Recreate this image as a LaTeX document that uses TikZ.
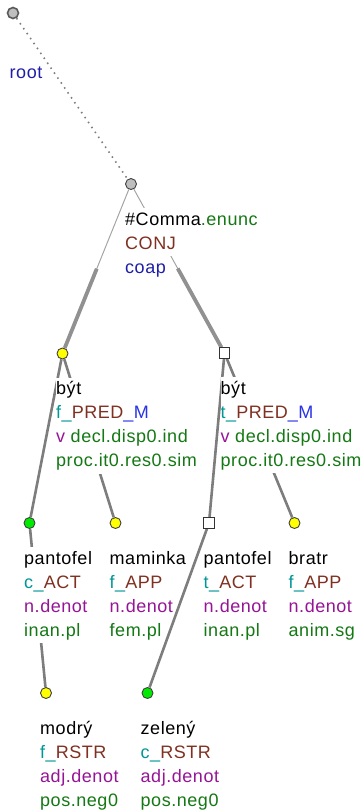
\documentclass[tikz,border=0pt]{standalone}
\usepackage{fontspec}
\setmainfont{Liberation Sans}[LetterSpace=3]
\usetikzlibrary{calc,backgrounds}
\definecolor{cteal}{RGB}{0,150,150}
\definecolor{cbrown}{RGB}{128,48,32}
\definecolor{cblue}{RGB}{40,50,230}
\definecolor{cnavy}{RGB}{30,30,170}
\definecolor{cpurple}{RGB}{150,20,150}
\definecolor{cgreen}{RGB}{20,120,20}
\definecolor{edgegrey}{RGB}{125,125,125}
\definecolor{thickgrey}{RGB}{145,145,145}
\definecolor{thingrey}{RGB}{165,165,165}
\definecolor{nodegrey}{RGB}{190,190,190}
\definecolor{nodeyellow}{RGB}{255,255,0}
\definecolor{nodegreen}{RGB}{0,235,0}
\tikzset{
  lbl/.style={anchor=base west, fill=white, inner xsep=0pt, inner ysep=0pt,
    text height=17pt, text depth=7pt, font=\fontsize{18}{24}\selectfont},
  dotnode/.style={circle, draw=black!75, line width=0.9pt, minimum size=11pt, inner sep=0pt},
  gnode/.style={dotnode, fill=nodegrey},
  ynode/.style={dotnode, fill=nodeyellow},
  grnode/.style={dotnode, fill=nodegreen},
  snode/.style={rectangle, draw=black!80, line width=0.9pt, fill=white, minimum size=10.5pt, inner sep=0pt},
  rootedge/.style={draw=edgegrey, line width=1.6pt, dash pattern=on 1.5pt off 4.5pt},
  normedge/.style={draw=edgegrey, line width=2.6pt},
  thinedge/.style={draw=thingrey, line width=1pt},
  thickedge/.style={draw=thickgrey, line width=3.8pt},
}
\begin{document}
\begin{tikzpicture}[x=1pt,y=-1pt]
\useasboundingbox (0,0) rectangle (362,812);
% tree nodes
\node[gnode, line width=1.6pt, draw=black!65] (root) at (13,13) {};
\node[gnode] (comma) at (131,184) {};
\node[ynode] (byt1) at (62.5,353.5) {};
\node[snode] (byt2) at (224.5,353) {};
\node[grnode] (pant1) at (29.5,523) {};
\node[ynode] (mam) at (115.5,523) {};
\node[snode] (pant2) at (209,523) {};
\node[ynode] (bratr) at (294.5,523) {};
\node[ynode] (modry) at (46,693) {};
\node[grnode] (zeleny) at (147.5,693) {};
% edges
\begin{pgfonlayer}{background}
\draw[rootedge] (root) -- (comma);
\draw[thinedge] (comma) -- (byt1);
\draw[thickedge] ($(comma)!0.5!(byt1)$) -- (byt1);
\draw[thinedge] (comma) -- (byt2);
\draw[thickedge] ($(comma)!0.5!(byt2)$) -- (byt2);
\draw[normedge] (byt1) -- (pant1);
\draw[normedge] (byt1) -- (mam);
\draw[normedge] (byt2) -- (pant2);
\draw[normedge] (byt2) -- (bratr);
\draw[normedge] (pant1) -- (modry);
\draw[normedge] (pant2) -- (zeleny);
\end{pgfonlayer}
% labels
\node[lbl] (root-b) at ($(root)+(-3.5,65)$) {\textcolor{cnavy}{root}};
\node[lbl] (comma-a) at ($(comma)+(-6,41)$) {\#Comma\textcolor{cgreen}{.enunc}};
\node[lbl] (comma-b) at ($(comma)+(-6,65)$) {\textcolor{cbrown}{CONJ}};
\node[lbl] (comma-c) at ($(comma)+(-6,89)$) {\textcolor{cnavy}{coap}};
\node[lbl] (byt1-a) at ($(byt1)+(-6.5,41)$) {být};
\node[lbl] (byt1-b) at ($(byt1)+(-6.5,65)$) {\textcolor{cteal}{f\_}\textcolor{cbrown}{PRED}\textcolor{cblue}{\_M}};
\node[lbl] (byt1-c) at ($(byt1)+(-6.5,89)$) {\textcolor{cpurple}{v} \textcolor{cgreen}{decl.disp0.ind}};
\node[lbl] (byt1-d) at ($(byt1)+(-6.5,113)$) {\textcolor{cgreen}{proc.it0.res0.sim}};
\node[lbl] (byt2-a) at ($(byt2)+(-4,41)$) {být};
\node[lbl] (byt2-b) at ($(byt2)+(-4,65)$) {\textcolor{cteal}{t\_}\textcolor{cbrown}{PRED}\textcolor{cblue}{\_M}};
\node[lbl] (byt2-c) at ($(byt2)+(-4,89)$) {\textcolor{cpurple}{v} \textcolor{cgreen}{decl.disp0.ind}};
\node[lbl] (byt2-d) at ($(byt2)+(-4,113)$) {\textcolor{cgreen}{proc.it0.res0.sim}};
\node[lbl] (pant1-a) at ($(pant1)+(-5.5,41)$) {pantofel};
\node[lbl] (pant1-b) at ($(pant1)+(-5.5,65)$) {\textcolor{cteal}{c\_}\textcolor{cbrown}{ACT}};
\node[lbl] (pant1-c) at ($(pant1)+(-5.5,89)$) {\textcolor{cpurple}{n.denot}};
\node[lbl] (pant1-d) at ($(pant1)+(-5.5,113)$) {\textcolor{cgreen}{inan.pl}};
\node[lbl] (mam-a) at ($(mam)+(-6,41)$) {maminka};
\node[lbl] (mam-b) at ($(mam)+(-6,65)$) {\textcolor{cteal}{f\_}\textcolor{cbrown}{APP}};
\node[lbl] (mam-c) at ($(mam)+(-6,89)$) {\textcolor{cpurple}{n.denot}};
\node[lbl] (mam-d) at ($(mam)+(-6,113)$) {\textcolor{cgreen}{fem.pl}};
\node[lbl] (pant2-a) at ($(pant2)+(-5.5,41)$) {pantofel};
\node[lbl] (pant2-b) at ($(pant2)+(-5.5,65)$) {\textcolor{cteal}{t\_}\textcolor{cbrown}{ACT}};
\node[lbl] (pant2-c) at ($(pant2)+(-5.5,89)$) {\textcolor{cpurple}{n.denot}};
\node[lbl] (pant2-d) at ($(pant2)+(-5.5,113)$) {\textcolor{cgreen}{inan.pl}};
\node[lbl] (bratr-a) at ($(bratr)+(-6,41)$) {bratr};
\node[lbl] (bratr-b) at ($(bratr)+(-6,65)$) {\textcolor{cteal}{f\_}\textcolor{cbrown}{APP}};
\node[lbl] (bratr-c) at ($(bratr)+(-6,89)$) {\textcolor{cpurple}{n.denot}};
\node[lbl] (bratr-d) at ($(bratr)+(-6,113)$) {\textcolor{cgreen}{anim.sg}};
\node[lbl] (modry-a) at ($(modry)+(-6,41)$) {modrý};
\node[lbl] (modry-b) at ($(modry)+(-6,65)$) {\textcolor{cteal}{f\_}\textcolor{cbrown}{RSTR}};
\node[lbl] (modry-c) at ($(modry)+(-6,89)$) {\textcolor{cpurple}{adj.denot}};
\node[lbl] (modry-d) at ($(modry)+(-6,113)$) {\textcolor{cgreen}{pos.neg0}};
\node[lbl] (zeleny-a) at ($(zeleny)+(-7,41)$) {zelený};
\node[lbl] (zeleny-b) at ($(zeleny)+(-7,65)$) {\textcolor{cteal}{c\_}\textcolor{cbrown}{RSTR}};
\node[lbl] (zeleny-c) at ($(zeleny)+(-7,89)$) {\textcolor{cpurple}{adj.denot}};
\node[lbl] (zeleny-d) at ($(zeleny)+(-7,113)$) {\textcolor{cgreen}{pos.neg0}};
\end{tikzpicture}
\end{document}
